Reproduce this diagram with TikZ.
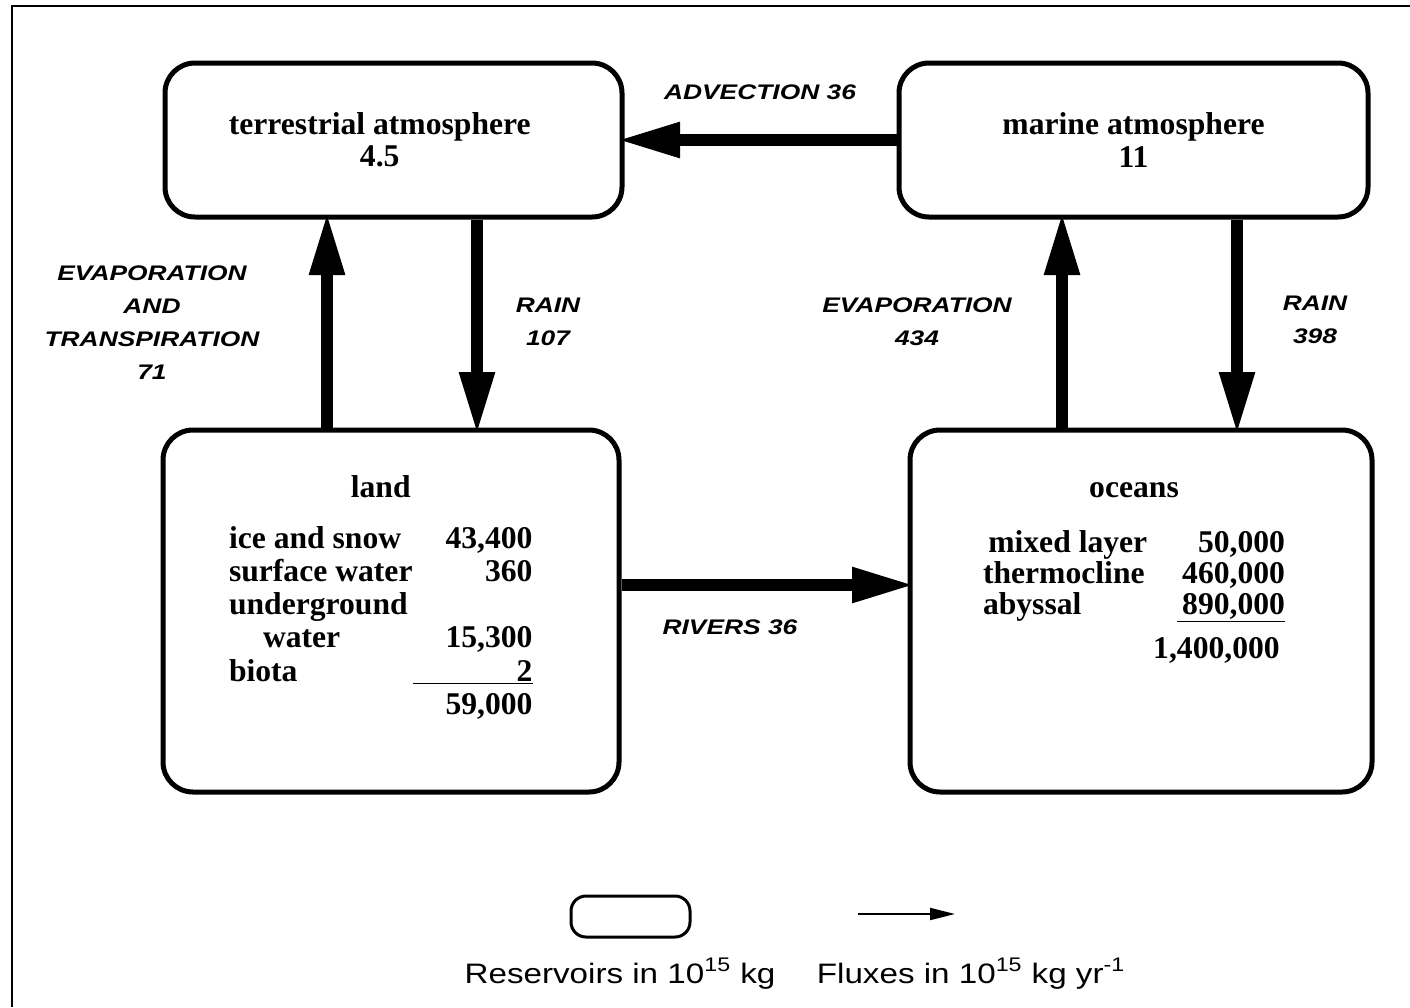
\documentclass[tikz,border=0pt]{standalone}
\usepackage{fontspec}
\setmainfont{Liberation Serif}
\newfontfamily\fluxfont[FakeStretch=1.25]{Liberation Sans}
\newfontfamily\keyfont[FakeStretch=1.18]{Liberation Sans}
\usetikzlibrary{arrows.meta}

\tikzset{
  reservoir/.style={draw, line width=0.1cm, rounded corners=0.6cm, inner sep=0pt,
    font=\bfseries\fontsize{18}{18.4}\selectfont, align=center},
  flux/.style={line width=0.23cm, shorten >=-0.14cm, -{Triangle[length=1.25cm, width=0.66cm]}},
  fluxlabel/.style={font=\fluxfont\bfseries\itshape\fontsize{12}{18.7}\selectfont, align=center},
  keytext/.style={font=\keyfont\fontsize{16}{18}\selectfont, anchor=base},
}

\begin{document}
\begin{tikzpicture}
\useasboundingbox (0,0) rectangle (28.2,-20.14);
\draw[line width=0.04cm] (0.24,-20.14) -- (0.24,-0.12) -- (28.2,-0.12);

% reservoirs
\node[reservoir, minimum width=9.14cm, minimum height=3.08cm] (terr) at (7.87,-2.8) {terrestrial atmosphere\hspace*{0.55cm}\\4.5\hspace*{0.55cm}};
\node[reservoir, minimum width=9.38cm, minimum height=3.08cm] (marine) at (22.67,-2.8) {marine atmosphere\\11};
\node[reservoir, minimum width=9.12cm, minimum height=7.24cm] (land) at (7.82,-12.22) {};
\node[reservoir, minimum width=9.24cm, minimum height=7.24cm] (oceans) at (22.82,-12.22) {};

\node[anchor=north, inner sep=0pt, font=\bfseries\fontsize{18}{18.9}\selectfont] (landtxt) at (7.57,-9.48) {%
\begin{tabular*}{5.98cm}{@{}l@{\extracolsep{\fill}}r@{}}
\multicolumn{2}{c}{land}\\[0.35cm]
ice and snow & 43,400\\
surface water & 360\\
underground & \\
\hspace*{0.68cm}water & 15,300\\
biota & \underline{\makebox[2.4cm][r]{2}}\\
 & 59,000
\end{tabular*}};

\node[anchor=north, inner sep=0pt, font=\bfseries\fontsize{18}{17}\selectfont] (oceantxt) at (22.68,-9.52) {%
\begin{tabular*}{6.04cm}{@{}l@{\extracolsep{\fill}}r@{}}
\multicolumn{2}{c}{oceans}\\[0.48cm]
\,mixed layer & 50,000\\
thermocline & 460,000\\
abyssal & \underline{\,890,000}\\[0.28cm]
 & 1,400,000\,
\end{tabular*}};

% fluxes
\draw[flux] ([xshift=-1.28cm]land.north) -- ([xshift=-1.28cm]land.north |- terr.south);
\draw[flux] ([xshift=1.67cm]terr.south) -- ([xshift=1.67cm]terr.south |- land.north);
\draw[flux] ([xshift=-1.58cm]oceans.north) -- ([xshift=-1.58cm]oceans.north |- marine.south);
\draw[flux] ([xshift=2.07cm]marine.south) -- ([xshift=2.07cm]marine.south |- oceans.north);
\draw[flux] (marine.west) -- (terr.east);
\draw[flux] ([yshift=0.52cm]land.east) -- ([yshift=0.52cm]land.east -| oceans.west);

\node[fluxlabel] (evtlab) at (3.04,-6.45) {EVAPORATION\\AND\\TRANSPIRATION\\71};
\node[fluxlabel] (rainlandlab) at (10.96,-6.43) {RAIN\\107};
\node[fluxlabel] (evaplab) at (18.34,-6.43) {EVAPORATION\\434};
\node[fluxlabel] (rainsealab) at (26.3,-6.39) {RAIN\\398};
\node[fluxlabel] (advlab) at (15.2,-1.84) {ADVECTION 36};
\node[fluxlabel] (rivlab) at (14.6,-12.54) {RIVERS 36};

% key
\node[draw, line width=0.06cm, rounded corners=0.3cm, minimum width=2.38cm, minimum height=0.82cm] (keybox) at (12.61,-18.33) {};
\coordinate (keyfrom) at (17.16,-18.28);
\coordinate (keyto) at (19.1,-18.28);
\draw[line width=0.04cm, -{Triangle[length=0.5cm, width=0.24cm]}] (keyfrom) -- (keyto);
\node[keytext] (reskey) at (12.4,-19.66) {Reservoirs in 10\textsuperscript{15} kg};
\node[keytext] (fluxkey) at (19.42,-19.66) {Fluxes in 10\textsuperscript{15} kg yr\textsuperscript{-1}};
\end{tikzpicture}
\end{document}
